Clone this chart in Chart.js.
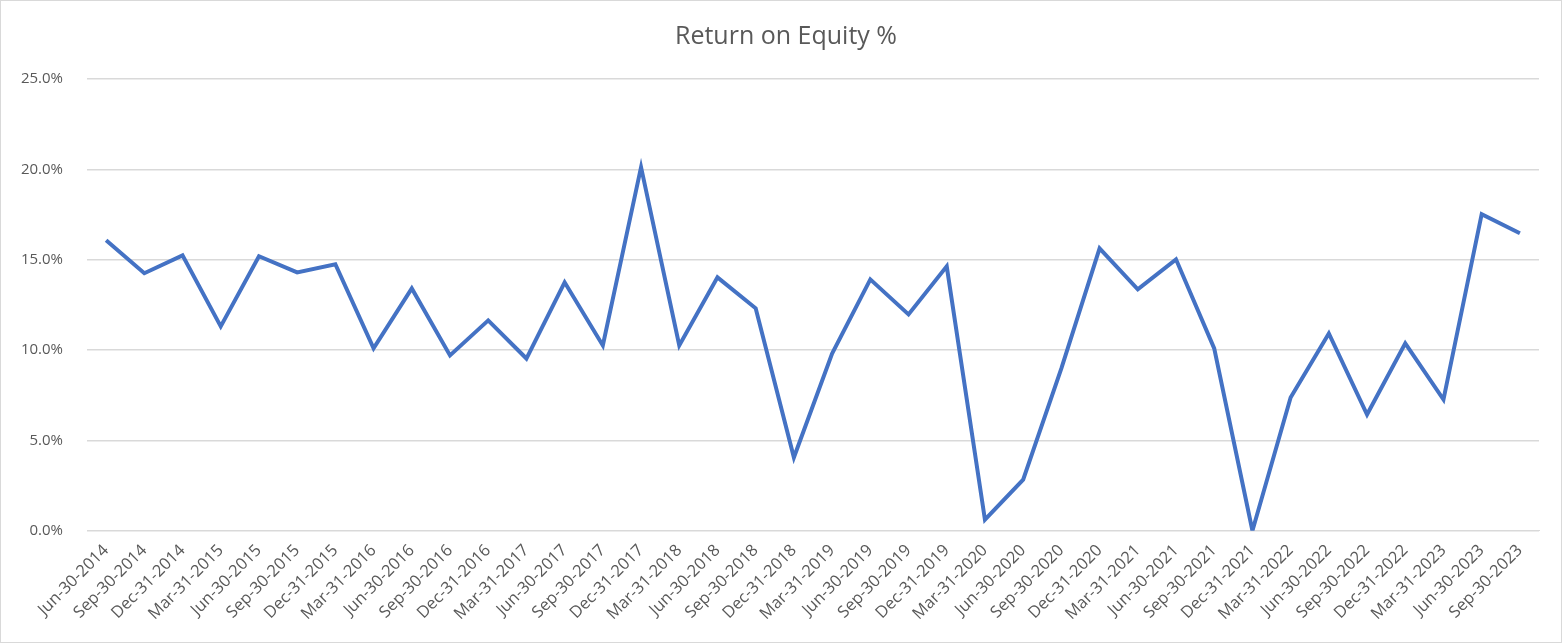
<!DOCTYPE html>
<html>
<head>
<meta charset="utf-8">
<script src="https://cdn.jsdelivr.net/npm/chart.js@4"></script>
<style>
  html, body { margin: 0; padding: 0; background: #fff; }
  #wrap { position: relative; width: 1560px; height: 641px; border: 1px solid #d9d9d9; }
</style>
</head>
<body>
<div id="wrap"><canvas id="chart"></canvas></div>
<script>
const quarters = [
  "Jun-30-2014", "Sep-30-2014", "Dec-31-2014", "Mar-31-2015", "Jun-30-2015", "Sep-30-2015",
  "Dec-31-2015", "Mar-31-2016", "Jun-30-2016", "Sep-30-2016", "Dec-31-2016", "Mar-31-2017",
  "Jun-30-2017", "Sep-30-2017", "Dec-31-2017", "Mar-31-2018", "Jun-30-2018", "Sep-30-2018",
  "Dec-31-2018", "Mar-31-2019", "Jun-30-2019", "Sep-30-2019", "Dec-31-2019", "Mar-31-2020",
  "Jun-30-2020", "Sep-30-2020", "Dec-31-2020", "Mar-31-2021", "Jun-30-2021", "Sep-30-2021",
  "Dec-31-2021", "Mar-31-2022", "Jun-30-2022", "Sep-30-2022", "Dec-31-2022", "Mar-31-2023",
  "Jun-30-2023", "Sep-30-2023"
];

// return on equity, percent
const roe = [
  16.07, 14.25, 15.24, 11.31, 15.19, 14.30,
  14.75, 10.09, 13.41, 9.70, 11.64, 9.53,
  13.75, 10.25, 20.12, 10.25, 14.02, 12.31,
  4.05, 9.81, 13.91, 11.97, 14.63, 0.61,
  2.83, 8.98, 15.63, 13.36, 15.02, 10.09,
  0.00, 7.37, 10.92, 6.43, 10.37, 7.26,
  17.52, 16.46
];

const yTicks = [0, 5, 10, 15, 20, 25];

const textColor = "#595959";
const gridColor = "#d9d9d9";
const fontFamily = "'Open Sans', 'Noto Sans', sans-serif";

new Chart(document.getElementById("chart"), {
  type: "line",
  data: {
    labels: quarters,
    datasets: [{
      label: "Return on Equity %",
      data: roe,
      borderColor: "#4472C4",
      borderWidth: 4,
      pointRadius: 0,
      tension: 0,
      fill: false
    }]
  },
  options: {
    responsive: true,
    maintainAspectRatio: false,
    animation: false,
    layout: { padding: { left: 16, right: 6, top: 4, bottom: 16 } },
    plugins: {
      legend: { display: false },
      tooltip: { enabled: false },
      title: {
        display: true,
        text: "Return on Equity %",
        color: textColor,
        font: { family: fontFamily, size: 25, weight: "normal" },
        padding: { top: 17, bottom: 27 }
      }
    },
    scales: {
      x: {
        offset: true,
        grid: { display: false },
        border: { display: true, color: gridColor },
        // keep the plot's right edge inset while the title stays centred on the page
        afterFit: (axis) => { axis.paddingRight = 22; },
        ticks: {
          color: textColor,
          font: { family: fontFamily, size: 16.5 },
          maxRotation: 45,
          minRotation: 45,
          autoSkip: false,
          padding: 2
        }
      },
      y: {
        min: yTicks[0],
        max: yTicks[yTicks.length - 1],
        afterBuildTicks: (axis) => { axis.ticks = yTicks.map((v) => ({ value: v })); },
        afterFit: (axis) => { axis.width = 70; },
        grid: { color: gridColor, lineWidth: 1.5, drawTicks: false },
        border: { display: false },
        ticks: {
          color: textColor,
          font: { family: fontFamily, size: 15 },
          padding: 24,
          callback: (v) => v.toFixed(1) + "%"
        }
      }
    }
  }
});
</script>
</body>
</html>
